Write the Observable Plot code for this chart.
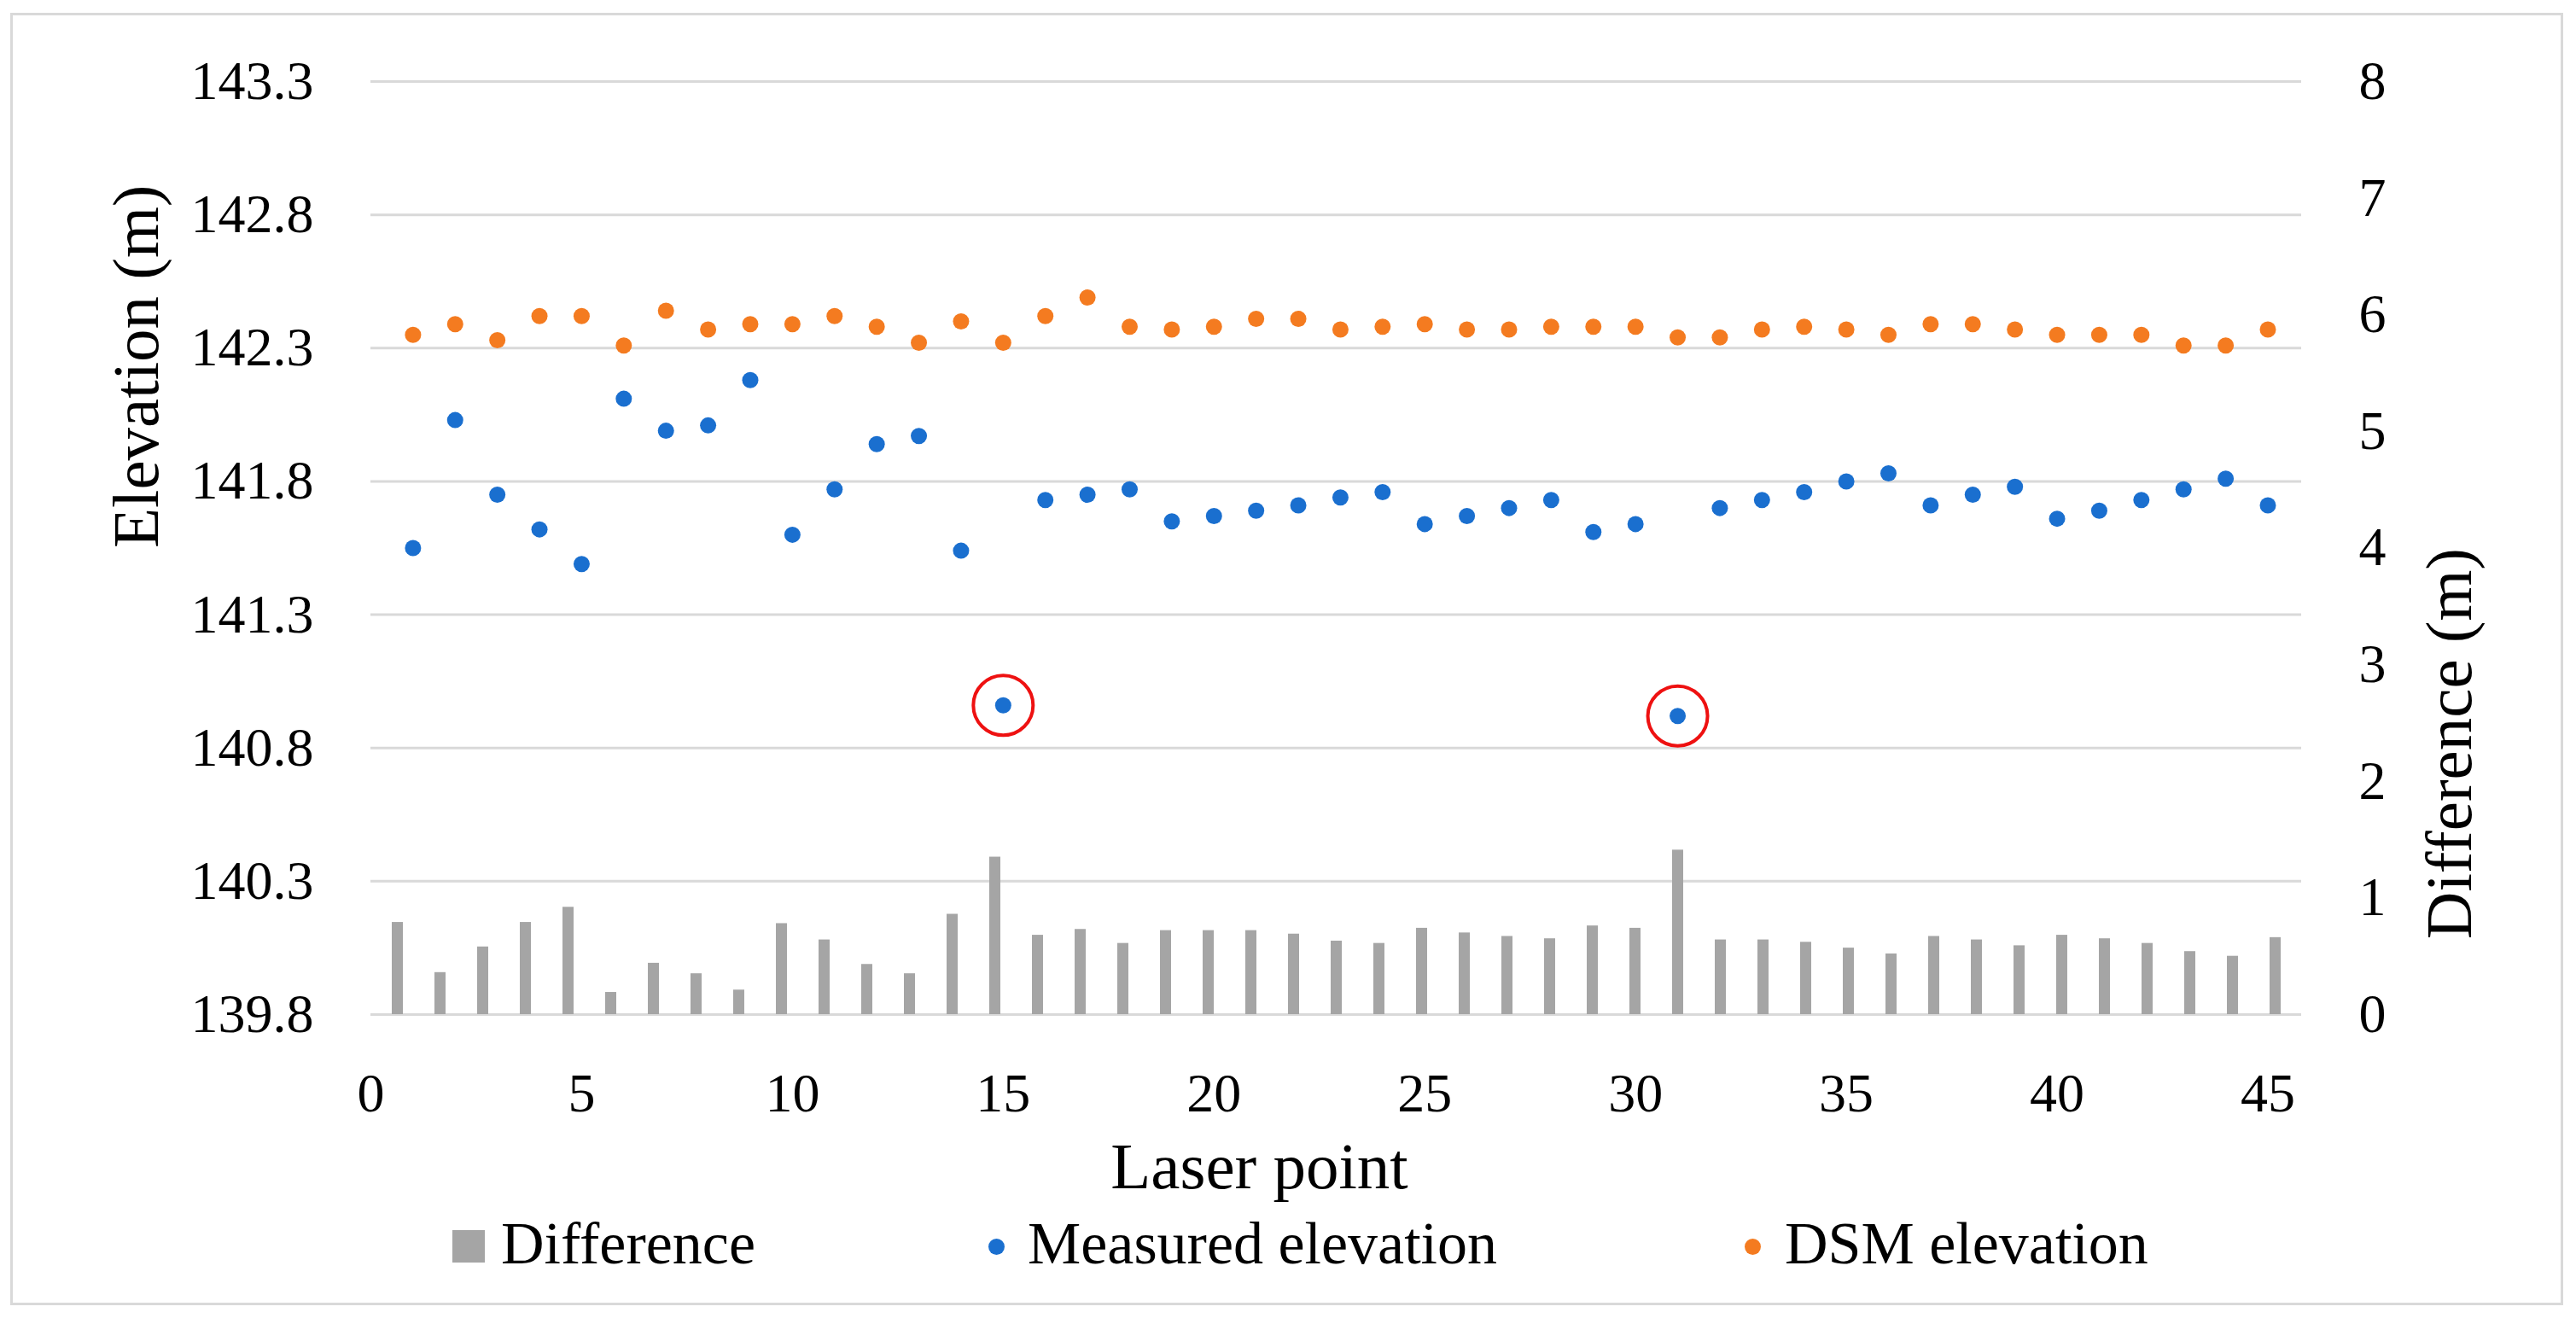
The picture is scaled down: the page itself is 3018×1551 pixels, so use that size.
<!DOCTYPE html>
<html>
<head>
<meta charset="utf-8">
<script src="https://cdn.jsdelivr.net/npm/d3@7"></script>
<script src="https://cdn.jsdelivr.net/npm/@observablehq/plot@0.6"></script>
<style>
  html, body { margin: 0; padding: 0; background: #fff; }
  #wrap { position: relative; width: 3018px; height: 1551px; overflow: hidden; font-family: "Liberation Serif", serif; }
  #frame { position: absolute; left: 12px; top: 15px; width: 2991px; height: 1514px; border: 3px solid #d9d9d9; box-sizing: border-box; }
  .layer { position: absolute; left: 0; top: 0; }
  .lg-text { position: absolute; top: 1457px; transform: translateY(-50%); font-size: 70px; line-height: 1; color: #000; white-space: nowrap; }
  .lg-sq { position: absolute; left: 530px; top: 1441px; width: 38px; height: 38px; background: #a5a5a5; }
  .lg-dot { position: absolute; width: 19px; height: 19px; border-radius: 50%; top: 1451px; }
</style>
</head>
<body>
<div id="wrap">
  <div id="frame"></div>
</div>
<script>
// ---- data ----
const laserPoint = [1,2,3,4,5,6,7,8,9,10,11,12,13,14,15,16,17,18,19,20,21,22,23,24,25,26,27,28,29,30,31,32,33,34,35,36,37,38,39,40,41,42,43,44,45];
const measuredElevation = [141.55, 142.03, 141.75, 141.62, 141.49, 142.11, 141.99, 142.01, 142.18, 141.60, 141.77, 141.94, 141.97, 141.54, 140.96, 141.73, 141.75, 141.77, 141.65, 141.67, 141.69, 141.71, 141.74, 141.76, 141.64, 141.67, 141.70, 141.73, 141.61, 141.64, 140.92, 141.70, 141.73, 141.76, 141.80, 141.83, 141.71, 141.75, 141.78, 141.66, 141.69, 141.73, 141.77, 141.81, 141.71];
const dsmElevation = [142.35, 142.39, 142.33, 142.42, 142.42, 142.31, 142.44, 142.37, 142.39, 142.39, 142.42, 142.38, 142.32, 142.40, 142.32, 142.42, 142.49, 142.38, 142.37, 142.38, 142.41, 142.41, 142.37, 142.38, 142.39, 142.37, 142.37, 142.38, 142.38, 142.38, 142.34, 142.34, 142.37, 142.38, 142.37, 142.35, 142.39, 142.39, 142.37, 142.35, 142.35, 142.35, 142.31, 142.31, 142.37];
const difference = [0.79, 0.36, 0.58, 0.79, 0.92, 0.19, 0.44, 0.35, 0.21, 0.78, 0.64, 0.43, 0.35, 0.86, 1.35, 0.68, 0.73, 0.61, 0.72, 0.72, 0.72, 0.69, 0.63, 0.61, 0.74, 0.70, 0.67, 0.65, 0.76, 0.74, 1.41, 0.64, 0.64, 0.62, 0.57, 0.52, 0.67, 0.64, 0.59, 0.68, 0.65, 0.61, 0.54, 0.50, 0.66];
const highlightedPoints = [15, 31];
const elevationTicks = [139.8, 140.3, 140.8, 141.3, 141.8, 142.3, 142.8, 143.3];
const differenceTicks = [0, 1, 2, 3, 4, 5, 6, 7, 8];
const xTicks = [0, 5, 10, 15, 20, 25, 30, 35, 40, 45];
const seriesNames = ["Difference", "Measured elevation", "DSM elevation"];
const seriesColors = ["#a5a5a5", "#1a6fcf", "#f47b20"];

const rows = laserPoint.map((p, k) => ({p, measured: measuredElevation[k], dsm: dsmElevation[k], diff: difference[k]}));
const highlighted = rows.filter(r => highlightedPoints.includes(r.p));

const W = 3018, H = 1551;
const M = {marginTop: 95, marginRight: 322, marginBottom: 363, marginLeft: 434};
const font = {fontFamily: "Liberation Serif, serif", fontSize: "64px", color: "#000", background: "none", overflow: "visible"};

const elev = Plot.plot({
  width: W, height: H, ...M,
  style: font,
  x: {domain: [0, 45.8], axis: null},
  y: {domain: [139.8, 143.3], axis: null},
  marks: [
    Plot.gridY(elevationTicks, {stroke: "#d9d9d9", strokeOpacity: 1, strokeWidth: 3}),
    Plot.axisY(elevationTicks, {tickSize: 0, tickPadding: 67, tickFormat: d => d.toFixed(1), label: null, fontSize: 64}),
    Plot.axisX(xTicks, {tickSize: 0, tickPadding: 68, tickFormat: d => String(d), label: null, fontSize: 64}),
    Plot.text(["Elevation (m)"], {frameAnchor: "left", dx: -274, rotate: -90, fontSize: 77, fill: "#000"}),
    Plot.text(["Difference (m)"], {frameAnchor: "right", dx: 174, rotate: -90, fontSize: 77, fill: "#000"}),
    Plot.text(["Laser point"], {frameAnchor: "bottom", dx: -90, dy: 203, fontSize: 77, fill: "#000"}),
    Plot.dot(rows, {x: "p", y: "dsm", r: 9.5, fill: seriesColors[2], stroke: "none"}),
    Plot.dot(rows, {x: "p", y: "measured", r: 9.5, fill: seriesColors[1], stroke: "none"}),
    Plot.dot(highlighted, {x: "p", y: "measured", r: 35, stroke: "#ee1111", strokeWidth: 4, fill: "none"})
  ]
});

const bars = Plot.plot({
  width: W, height: H, ...M,
  style: font,
  x: {type: "band", domain: laserPoint, paddingInner: 0.75, paddingOuter: 0.375, axis: null},
  y: {domain: [0, 8], axis: null},
  marks: [
    Plot.barY(rows, {x: "p", y: "diff", fill: seriesColors[0]}),
    Plot.axisY(differenceTicks, {anchor: "right", tickSize: 0, tickPadding: 67, tickFormat: d => String(d), label: null, fontSize: 64})
  ]
});

const wrap = document.getElementById("wrap");
elev.classList.add("layer");
bars.classList.add("layer");
wrap.appendChild(elev);
wrap.appendChild(bars);

// legend
const lg = [
  {kind: "sq", textLeft: 587},
  {kind: "dot", dotLeft: 1158, textLeft: 1204},
  {kind: "dot", dotLeft: 2044, textLeft: 2091}
];
lg.forEach((item, k) => {
  if (item.kind === "sq") {
    const s = document.createElement("div");
    s.className = "lg-sq";
    s.style.background = seriesColors[k];
    wrap.appendChild(s);
  } else {
    const d = document.createElement("div");
    d.className = "lg-dot";
    d.style.left = item.dotLeft + "px";
    d.style.background = seriesColors[k];
    wrap.appendChild(d);
  }
  const t = document.createElement("div");
  t.className = "lg-text";
  t.style.left = item.textLeft + "px";
  t.textContent = seriesNames[k];
  wrap.appendChild(t);
});
</script>
</body>
</html>
